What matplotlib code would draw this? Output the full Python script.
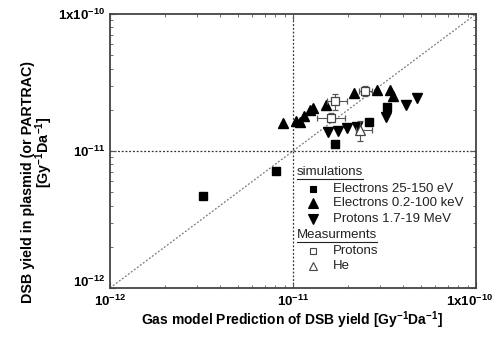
import numpy as np
import matplotlib
matplotlib.use('Agg')
import matplotlib.pyplot as plt
import matplotlib.transforms as mtransforms
from matplotlib.lines import Line2D

matplotlib.rcParams['font.family'] = 'Liberation Sans'
matplotlib.rcParams['mathtext.fontset'] = 'custom'
matplotlib.rcParams['mathtext.rm'] = 'Liberation Sans:bold'
matplotlib.rcParams['mathtext.bf'] = 'Liberation Sans:bold'
matplotlib.rcParams['mathtext.default'] = 'bf'

# Simulations: Electrons 25-150 eV
e_low_x = [3.22e-12, 8.07e-12, 1.70e-11, 2.60e-11, 3.27e-11]
e_low_y = [4.70e-12, 7.18e-12, 1.12e-11, 1.64e-11, 2.09e-11]

# Simulations: Electrons 0.2-100 keV
e_high_x = [8.8e-12, 1.045e-11, 1.087e-11, 1.149e-11, 1.24e-11, 1.29e-11,
            1.52e-11, 2.15e-11, 2.88e-11, 3.41e-11, 3.52e-11]
e_high_y = [1.59e-11, 1.66e-11, 1.63e-11, 1.79e-11, 1.99e-11, 2.05e-11,
            2.17e-11, 2.65e-11, 2.81e-11, 2.79e-11, 2.52e-11]

# Simulations: Protons 1.7-19 MeV
p_sim_x = [1.545e-11, 1.76e-11, 1.98e-11, 2.24e-11, 3.22e-11, 4.17e-11, 4.74e-11]
p_sim_y = [1.38e-11, 1.39e-11, 1.46e-11, 1.50e-11, 1.76e-11, 2.16e-11, 2.43e-11]

# Measurements: Protons (value, low, high)
p_meas_x  = [1.70e-11, 1.61e-11, 2.47e-11]
p_meas_xl = [1.53e-11, 1.36e-11, 2.30e-11]
p_meas_xh = [1.98e-11, 1.92e-11, 2.69e-11]
p_meas_y  = [2.31e-11, 1.74e-11, 2.73e-11]
p_meas_yl = [2.00e-11, 1.63e-11, 2.51e-11]
p_meas_yh = [2.61e-11, 1.89e-11, 2.96e-11]

# Measurements: He
he_x  = [2.32e-11]
he_xl = [2.21e-11]
he_xh = [2.69e-11]
he_y  = [1.43e-11]
he_yl = [1.18e-11]
he_yh = [1.65e-11]

fig = plt.figure(figsize=(4.99, 3.44), dpi=100)
ax = fig.add_axes([0.2204, 0.1628, 0.7335, 0.7965])

ax.set_xscale('log')
ax.set_yscale('log')
ax.set_xlim(1e-12, 1e-10)
ax.set_ylim(1e-12, 1e-10)

# reference lines
ax.plot([1e-12, 1e-10], [1e-12, 1e-10], ls=(0, (1.5, 1.5)), color='#777777', lw=0.9, zorder=1)
ax.axvline(1e-11, ls=(0, (1.5, 1.5)), color='#333333', lw=0.9, zorder=1)
ax.axhline(1e-11, ls=(0, (1.5, 1.5)), color='#333333', lw=0.9, zorder=1)

def errs(v, lo, hi):
  v = np.array(v); return [v - np.array(lo), np.array(hi) - v]

ax.errorbar(p_meas_x, p_meas_y, xerr=errs(p_meas_x, p_meas_xl, p_meas_xh),
            yerr=errs(p_meas_y, p_meas_yl, p_meas_yh), fmt='s', ms=5.5, mfc='white',
            mec='#444444', mew=0.9, ecolor='#555555', elinewidth=0.8, capsize=2, zorder=4)
ax.errorbar(he_x, he_y, xerr=errs(he_x, he_xl, he_xh), yerr=errs(he_y, he_yl, he_yh),
            fmt='^', ms=6.5, mfc='white', mec='#444444', mew=0.9, ecolor='#555555',
            elinewidth=0.8, capsize=2, zorder=4)
ax.plot(e_low_x, e_low_y, 's', color='black', ms=5.5, ls='none', zorder=3)
ax.plot(e_high_x, e_high_y, '^', color='black', ms=7, ls='none', zorder=3)
ax.plot(p_sim_x, p_sim_y, 'v', color='black', ms=7, ls='none', zorder=3)

# ticks
ax.set_xticks([1e-12, 1e-11, 1e-10])
ax.set_yticks([1e-12, 1e-11, 1e-10])
tick_labels = [r'$10^{-12}$', r'$10^{-11}$', r'$1x10^{-10}$']
ax.set_xticklabels(tick_labels)
ax.set_yticklabels(tick_labels)
ax.tick_params(axis='both', which='both', direction='in', top=True, right=True,
               labelsize=9.5, color='#555555')
ax.tick_params(axis='both', which='major', size=4, width=0.8)
ax.tick_params(axis='both', which='minor', size=2.5, width=0.6)
ax.tick_params(axis='x', pad=4)
for s in ax.spines.values():
  s.set_color('#444444'); s.set_linewidth(1.3)
last = ax.get_xticklabels()[-1]
last.set_transform(last.get_transform() + mtransforms.ScaledTranslation(-5/72, 0, fig.dpi_scale_trans))
first_y = ax.get_yticklabels()[0]
first_y.set_transform(first_y.get_transform() + mtransforms.ScaledTranslation(0, 5/72, fig.dpi_scale_trans))

# labels
fig.text(0.586, 0.068, r'Gas model Prediction of DSB yield [Gy$^{-1}$Da$^{-1}$]',
         ha='center', va='center', fontsize=10, fontweight='bold')
fig.text(0.056, 0.47, 'DSB yield in plasmid (or PARTRAC)', rotation=90,
         ha='center', va='center', fontsize=10.3, fontweight='bold')
fig.text(0.088, 0.558, r'[Gy$^{-1}$Da$^{-1}$]', rotation=90,
         ha='center', va='center', fontsize=10.3, fontweight='bold')

# legend built by hand
hx, mx, tx = 0.510, 0.555, 0.610
rows = [0.424, 0.363, 0.309, 0.252, 0.193, 0.135, 0.080]
entries = [('simulations', None, None),
           ('Electrons 25-150 eV', 's', 'black'),
           ('Electrons 0.2-100 keV', '^', 'black'),
           ('Protons 1.7-19 MeV', 'v', 'black'),
           ('Measurments', None, None),
           ('Protons', 's', 'white'),
           ('He', '^', 'white')]
headers = []
for (label, mk, fc), yy in zip(entries, rows):
  if mk is None:
    t = ax.text(hx, yy, label, transform=ax.transAxes, ha='left', va='center',
                fontsize=9.5, color='#222222')
    headers.append(t)
  else:
    ms = 5 if mk == 's' else 6.5
    if fc == 'white':
      ms = 4.5 if mk == 's' else 6
    ax.plot([mx], [yy], mk, transform=ax.transAxes, ms=ms, mfc=fc,
            mec='black' if fc == 'black' else '#444444', mew=0.8, clip_on=False)
    ax.text(tx, yy, label, transform=ax.transAxes, ha='left', va='center',
            fontsize=9.5, color='#222222')

fig.canvas.draw()
inv = ax.transAxes.inverted()
for t in headers:
  bb = t.get_window_extent()
  (x0, y0), (x1, y1) = inv.transform([[bb.x0, bb.y0], [bb.x1, bb.y0]])
  ax.add_line(Line2D([x0, x1], [y0 - 0.004, y1 - 0.004], transform=ax.transAxes,
                     color='#222222', lw=0.8))

fig.savefig('out.png', dpi=100)
